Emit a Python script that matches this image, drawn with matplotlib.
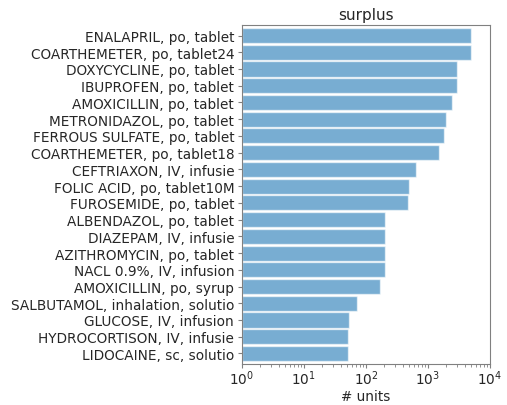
import numpy as np
import matplotlib
matplotlib.use("Agg")
import matplotlib.pyplot as plt

# surplus per item, top bar first
items = [
    "ENALAPRIL, po, tablet",
    "COARTHEMETER, po, tablet24",
    "DOXYCYCLINE, po, tablet",
    "IBUPROFEN, po, tablet",
    "AMOXICILLIN, po, tablet",
    "METRONIDAZOL, po, tablet",
    "FERROUS SULFATE, po, tablet",
    "COARTHEMETER, po, tablet18",
    "CEFTRIAXON, IV, infusie",
    "FOLIC ACID, po, tablet10M",
    "FUROSEMIDE, po, tablet",
    "ALBENDAZOL, po, tablet",
    "DIAZEPAM, IV, infusie",
    "AZITHROMYCIN, po, tablet",
    "NACL 0.9%, IV, infusion",
    "AMOXICILLIN, po, syrup",
    "SALBUTAMOL, inhalation, solutio",
    "GLUCOSE, IV, infusion",
    "HYDROCORTISON, IV, infusie",
    "LIDOCAINE, sc, solutio",
]
units = [5000, 4900, 3000, 3000, 2500, 2000, 1800, 1500, 640, 500,
         470, 200, 200, 200, 200, 168, 70, 53, 50, 50]

text_col = "#262626"
plt.rcParams["text.color"] = text_col
plt.rcParams["axes.labelcolor"] = text_col
plt.rcParams["xtick.color"] = text_col
plt.rcParams["ytick.color"] = text_col
plt.rcParams["font.size"] = 9.8

fig, ax = plt.subplots(figsize=(5.07, 4.06), dpi=100)
fig.subplots_adjust(left=0.477, right=0.966, top=0.936, bottom=0.101)

pos = np.arange(len(items))[::-1]
ax.barh(pos, units, left=1, height=0.9, color="#1f77b4", alpha=0.6,
        edgecolor="white", linewidth=1)
ax.set_xscale("log")
ax.set_xlim(1, 1e4)
ax.set_ylim(-0.63, len(items) - 0.37)
ax.set_yticks(pos)
ax.set_yticklabels(items)
ax.set_xlabel("# units")
ax.xaxis.set_label_coords(0.5, -0.074)
ax.set_title("surplus", fontsize=11, pad=4)

for s in ax.spines.values():
    s.set_color("#808080")
ax.tick_params(which="major", color="#808080", length=3, pad=2.5)
ax.tick_params(axis="x", which="major", pad=0.5)
ax.tick_params(which="minor", color="#808080", length=1.8)

fig.savefig("out.png", dpi=100)
